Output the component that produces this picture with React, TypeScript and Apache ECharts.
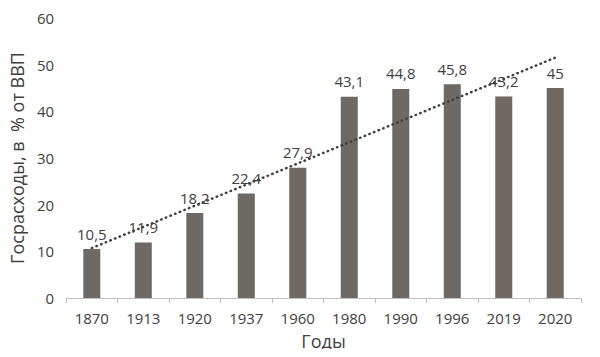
import React, { useEffect, useRef } from "react";
import * as echarts from "echarts";

const categories = ["1870", "1913", "1920", "1937", "1960", "1980", "1990", "1996", "2019", "2020"];
const values = [10.5, 11.9, 18.2, 22.4, 27.9, 43.1, 44.8, 45.8, 43.2, 45];
const trendStart = 10.7;
const trendEnd = 51.5;

const fmt = (v: number) => String(v).replace(".", ",");

export default function App() {
  const ref = useRef<HTMLDivElement>(null);
  useEffect(() => {
    if (!ref.current) return;
    const chart = echarts.init(ref.current, null, { renderer: "svg" });
    const font = "'Open Sans', 'Noto Sans', sans-serif";
    chart.setOption({
      animation: false,
      textStyle: { fontFamily: font },
      grid: { left: 63, right: 19, top: 18, bottom: 59 },
      xAxis: {
        type: "category",
        data: categories,
        name: "Годы",
        nameLocation: "middle",
        nameGap: 34,
        nameTextStyle: { fontSize: 18, color: "#404040", fontFamily: font, verticalAlign: "top" },
        axisLine: { lineStyle: { color: "#bfbfbf", width: 1 } },
        axisTick: { show: true, lineStyle: { color: "#bfbfbf" }, length: 5 },
        axisLabel: { fontSize: 15, color: "#404040", margin: 12, fontFamily: font },
      },
      yAxis: {
        type: "value",
        min: 0,
        max: 60,
        interval: 10,
        name: "Госрасходы, в  % от ВВП",
        nameLocation: "middle",
        nameGap: 37,
        nameTextStyle: { fontSize: 18, color: "#404040", fontFamily: font },
        splitLine: { show: false },
        axisLine: { show: false },
        axisTick: { show: false },
        axisLabel: { fontSize: 15, color: "#404040", margin: 12, fontFamily: font },
      },
      series: [
        {
          type: "bar",
          data: values,
          barWidth: 17,
          itemStyle: { color: "#6e6964" },
          label: {
            show: true,
            position: "top",
            distance: 8,
            fontSize: 15,
            color: "#404040",
            fontFamily: font,
            formatter: (p: any) => fmt(p.value),
          },
          markLine: {
            silent: true,
            symbol: ["none", "none"],
            label: { show: false },
            lineStyle: { type: [0.5, 4.5], color: "#404040", width: 2.5, cap: "round" },
            data: [[{ coord: [0, trendStart] }, { coord: [9, trendEnd] }]],
          },
        },
      ],
    });
    return () => chart.dispose();
  }, []);
  return <div ref={ref} style={{ width: 600, height: 357, margin: -8 }} />;
}
